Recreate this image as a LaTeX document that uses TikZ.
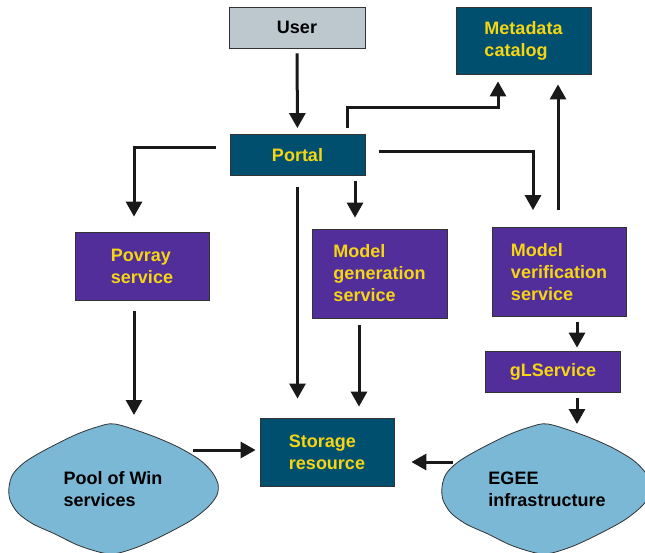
\documentclass[tikz,border=0pt]{standalone}
\usepackage{fontspec}
\setmainfont{Liberation Sans}
\usetikzlibrary{arrows.meta}
\definecolor{tealc}{HTML}{004F6F}
\definecolor{violetc}{HTML}{512E9A}
\definecolor{txtyellow}{HTML}{F6D512}
\definecolor{userc}{HTML}{BDC8CE}
\definecolor{cloudblue}{HTML}{7AB8D6}
\begin{document}
\begin{tikzpicture}[x=1pt,y=-1pt,
    font=\fontsize{18}{22}\selectfont\bfseries,
    box/.style={draw=black!80,line width=0.8pt,align=left,inner sep=0pt},
    tealbox/.style={box,fill=tealc,text=txtyellow},
    vbox/.style={box,fill=violetc,text=txtyellow},
    arr/.style={-{Triangle[width=16pt,length=15pt]},line width=3pt,draw=black!90},
    cloud/.style={draw=black!80,line width=0.8pt,fill=cloudblue}]
    \useasboundingbox (0,0) rectangle (645,552);
    \clip (0,0) rectangle (645,552);
    % clouds: same outline, shifted
    \foreach \dx in {0,433}{
        \draw[cloud,xshift=\dx pt] plot[smooth cycle,tension=0.5] coordinates{(115,424) (150,435) (178,447) (200,460) (212,472) (218,484) (217,495) (208,507) (190,521) (160,537) (135,548) (110,554) (80,546) (55,534) (33,524) (18,513) (10,500) (9,487) (13,474) (25,462) (45,450) (75,435) (97,427)};
    }
    \coordinate (pooltop) at (115,424);
    \coordinate (egeetop) at (548,424);
    \coordinate (poolout) at (193,450);
    \coordinate (egeeout) at (453,462);
    \node[align=left] (pool) at (113,489) {Pool of Win\\services};
    \node[align=left] (egee) at (547,489) {EGEE\\infrastructure};
    % boxes
    \node[box,fill=userc,minimum width=136pt,minimum height=41pt] (user) at (297,27.5) {User};
    \node[tealbox,minimum width=135pt,minimum height=67pt] (meta) at (523.5,40.5) {Metadata\\catalog};
    \node[tealbox,minimum width=135pt,minimum height=41pt] (portal) at (297.5,155) {Portal};
    \node[vbox,minimum width=134pt,minimum height=68pt] (povray) at (142,266) {Povray\\service};
    \node[vbox,minimum width=135pt,minimum height=89pt] (modgen) at (379.5,273.5) {Model\\generation\\service};
    \node[vbox,minimum width=134pt,minimum height=89pt] (modver) at (559,272) {Model\\verification\\service};
    \node[vbox,minimum width=135pt,minimum height=41pt] (gls) at (553,371.5) {gLService};
    \node[tealbox,minimum width=134pt,minimum height=68pt] (storage) at (327,452) {Storage\\resource};
    % arrows
    \draw[arr,shorten <=5pt,shorten >=6pt] (user) -- (portal);
    \draw[arr,shorten <=6pt,shorten >=7pt] ([xshift=50pt]portal.north) -- ++(0,-27) -| ([xshift=-25.5pt]meta.south);
    \draw[arr,shorten <=14pt,shorten >=17pt] ([yshift=4pt]portal.east) -| ([xshift=-26pt]modver.north);
    \draw[arr,shorten <=17pt,shorten >=10pt] ([xshift=-1pt]modver.north) -- ([xshift=-1pt]modver.north |- meta.south);
    \draw[arr,shorten <=14pt,shorten >=15pt] ([yshift=8pt]portal.west) -| ([xshift=-8pt]povray.north);
    \draw[arr,shorten <=5pt,shorten >=11pt] ([xshift=57.5pt]portal.south) -- ([xshift=57.5pt]portal.south |- modgen.north);
    \draw[arr,shorten <=11pt,shorten >=19pt] (portal.south) -- (portal.south |- storage.north);
    \draw[arr,shorten <=11pt,shorten >=9pt] ([xshift=-8pt]povray.south) -- ([xshift=-8pt]povray.south |- pooltop);
    \draw[arr,shorten <=7pt,shorten >=11pt] ([xshift=-20.5pt]modgen.south) -- ([xshift=-20.5pt]modgen.south |- storage.north);
    \draw[arr,shorten <=5pt,shorten >=3pt] ([xshift=18pt]modver.south) -- ([xshift=18pt]modver.south |- gls.north);
    \draw[arr,shorten <=6pt] ([xshift=24pt]gls.south) -- ([xshift=24pt]gls.south |- egeetop);
    \draw[arr,shorten >=4pt] (poolout) -- ([yshift=2pt]storage.west);
    \draw[arr,shorten >=17pt] (egeeout) -- ([yshift=-10pt]storage.east);
\end{tikzpicture}
\end{document}
